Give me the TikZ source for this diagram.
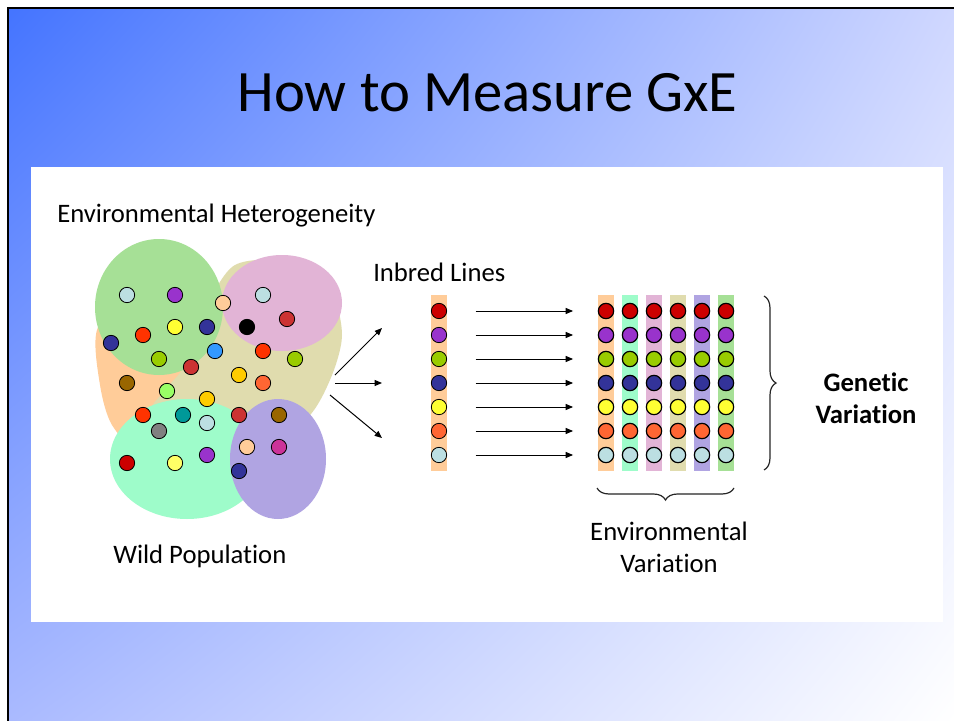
\documentclass[tikz,border=0pt]{standalone}
\usepackage{fontspec}
\setmainfont{Carlito}[Ligatures=NoCommon]
\usetikzlibrary{arrows.meta}
\usetikzlibrary{decorations.pathreplacing}
\usetikzlibrary{shadings}

% colori dei punti
\definecolor{lblue}{HTML}{BCDFE2}
\definecolor{purp}{HTML}{9933CC}
\definecolor{peach}{HTML}{FFCC99}
\definecolor{yell}{HTML}{FFFF33}
\definecolor{navy}{HTML}{333399}
\definecolor{brick}{HTML}{CC3333}
\definecolor{red1}{HTML}{FF3300}
\definecolor{ygreen}{HTML}{99CC00}
\definecolor{blue1}{HTML}{3399FF}
\definecolor{brown1}{HTML}{996600}
\definecolor{lgreen}{HTML}{99FF66}
\definecolor{gold1}{HTML}{FFCC00}
\definecolor{ored}{HTML}{FF6633}
\definecolor{teal1}{HTML}{009999}
\definecolor{gray1}{HTML}{808080}
\definecolor{magenta1}{HTML}{CC3399}
\definecolor{dred}{HTML}{CC0000}
\definecolor{lyell}{HTML}{FFFF66}
% colori degli ambienti
\definecolor{envorange}{HTML}{FFCC99}
\definecolor{envtan}{HTML}{E0DCAE}
\definecolor{envgreen}{HTML}{A6E096}
\definecolor{envpink}{HTML}{E2B4D6}
\definecolor{envmint}{HTML}{9EFCCA}
\definecolor{envpurple}{HTML}{B0A4E2}
% sfondo
\definecolor{bgA}{HTML}{4474FF}
\definecolor{bgB}{HTML}{CFD7FF}
\definecolor{bgC}{HTML}{AABAFF}
\definecolor{bgD}{HTML}{FFFFFF}

\begin{document}
\begin{tikzpicture}[x=0.75pt, y=-0.75pt,
                dot/.style = {circle, draw, line width=0.6pt, minimum size=11.5pt, inner sep=0pt},
                strip/.style = {minimum width=12pt, minimum height=131.5pt, inner sep=0pt},
                arrow/.style = {-{Triangle[length=5.5pt, width=4.5pt]}, line width=0.75pt},
                % Stile per le parentesi graffe
                brace line/.style = {decorate, decoration={brace, amplitude=9pt}, line width=0.9pt, black!85},
                body text/.style = {font=\fontsize{20}{24}\selectfont, inner sep=0pt}
                ]

                \useasboundingbox (0,0) rectangle (954,721);

                % --- Sfondo ---
                \shade[upper left=bgA, upper right=bgB, lower left=bgC, lower right=bgD] (8,8) rectangle (954,721);
                \draw[line width=2pt] (8,721) -- (8,8) -- (954,8);
                \fill[white] (31,167) rectangle (943,622);

                % --- Titolo ---
                \node[font=\fontsize{44}{53}\selectfont, anchor=base, inner sep=0pt] (title) at (487.5,111) {How to Measure GxE};

                % --- Ambienti (popolazione selvatica) ---
                \fill[envorange] plot[smooth cycle] coordinates {(97,330) (100,385) (112,425) (140,450) (190,430) (195,380) (185,300) (130,290)};
                \fill[envtan] plot[smooth cycle] coordinates {(150,415) (165,390) (185,365) (205,310) (235,265) (290,262) (330,290) (342,335) (330,380) (305,420) (250,445) (190,440)};
                \fill[envgreen] (159,307) ellipse [x radius=64, y radius=68];
                \fill[envpink] (282,303) ellipse [x radius=60, y radius=48];
                \fill[envmint] (187,459) ellipse [x radius=77, y radius=60];
                \fill[envpurple] (278,459) ellipse [x radius=48, y radius=60];

                % --- Individui ---
                \foreach \x/\y/\c [count=\n] in {127/295/lblue, 175/295/purp, 223/303/peach, 263/295/lblue,
                        175/327/yell, 207/327/navy, 247/327/black, 287/319/brick, 111/343/navy, 143/335/red1,
                        159/359/ygreen, 191/367/brick, 215/351/blue1, 263/351/red1, 295/359/ygreen,
                        127/383/brown1, 167/391/lgreen, 239/375/gold1, 263/383/ored, 207/399/gold1,
                        143/415/red1, 183/415/teal1, 239/415/brick, 279/415/brown1, 159/431/gray1,
                        207/423/lblue, 247/447/peach, 279/447/magenta1, 127/463/dred, 175/463/lyell,
                        207/455/purp, 239/471/navy} {
                    \node[dot, fill=\c] (w\n) at (\x,\y) {};
                }

                % --- Strisce (linee inbred e ambienti) ---
                \node[strip, fill=envorange] (s0) at (439,383) {};
                \foreach \c [count=\k] in {envorange, envmint, envpink, envtan, envpurple, envgreen} {
                    \node[strip, fill=\c] (s\k) at ({582+24*\k},383) {};
                }

                % --- Linee inbred e griglia GxE ---
                \foreach \c [count=\j] in {dred, purp, ygreen, navy, yell, ored, lblue} {
                    \node[dot, fill=\c] (i\j) at (439,{287+24*\j}) {};
                    \foreach \k in {1,...,6} {
                        \node[dot, fill=\c, line width=0.9pt] (g\j\k) at ({582+24*\k},{287+24*\j}) {};
                    }
                    \draw[arrow, shorten <=21.5pt, shorten >=18.5pt] (i\j) -- (g\j1);
                }

                % --- Frecce dalla popolazione ---
                \coordinate (src1) at (335,375);
                \coordinate (src2) at (335,383);
                \coordinate (src3) at (330,395);
                \coordinate (dst1) at (382,328);
                \coordinate (dst2) at (382,383);
                \coordinate (dst3) at (382,438);
                \foreach \i in {1,2,3} {
                    \draw[arrow] (src\i) -- (dst\i);
                }

                % --- Parentesi ---
                \coordinate (gtop) at (764,296);
                \coordinate (gbot) at (764,470);
                \coordinate (eleft) at (597,488);
                \coordinate (eright) at (734,488);
                \draw[brace line] (gtop) -- (gbot);
                \draw[brace line] (eright) -- (eleft);

                % --- Etichette ---
                \node[body text, anchor=base west] (hetero) at (57,222) {Environmental Heterogeneity};
                \node[body text, anchor=base west] (inbred) at (373,281) {Inbred Lines};
                \node[body text, anchor=base west] (wild) at (113,563) {Wild Population};
                \node[font=\bfseries\fontsize{20}{24}\selectfont, align=center, inner sep=0pt] (gvar) at (866,398) {Genetic\\Variation};
                \node[body text, align=center] (evar) at (669,547) {Environmental\\Variation};

            \end{tikzpicture}
\end{document}
